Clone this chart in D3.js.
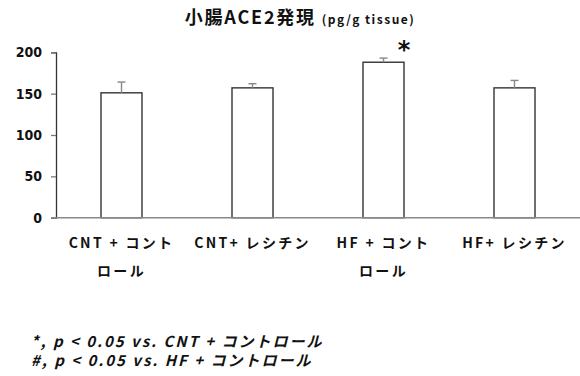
<!DOCTYPE html>
<html>
<head>
<meta charset="utf-8">
<script src="https://cdn.jsdelivr.net/npm/d3@7"></script>
<style>
  html, body { margin: 0; padding: 0; background: #fff; }
  svg { display: block; }
  text { font-family: "Noto Sans CJK JP", "DejaVu Sans", sans-serif; fill: #111; }
</style>
</head>
<body>
<svg id="chart" width="580" height="376"></svg>
<script>
// Intestinal ACE2 expression per group (pg/g tissue), mean and SE
const categories = ["CNT + コントロール", "CNT+ レシチン", "HF + コントロール", "HF+ レシチン"];
const labelLines = [["CNT + コント", "ロール"], ["CNT+ レシチン"], ["HF + コント", "ロール"], ["HF+ レシチン"]];
const means = [151, 157, 188, 157];
const errors = [13, 5, 5, 9];
const marks = ["", "", "*", ""];
const yTicks = [0, 50, 100, 150, 200];

const svg = d3.select("#chart");

const x = d3.scaleBand()
  .domain(categories)
  .range([56, 580])
  .paddingInner(0.687)
  .paddingOuter(0.3435);

const y = d3.scaleLinear().domain([0, 200]).range([217.7, 52.3]);

// Title
const title = svg.append("text")
  .attr("x", 300).attr("y", 24)
  .attr("text-anchor", "middle")
  .style("font-weight", "bold");
title.append("tspan").attr("font-size", 18).attr("letter-spacing", 1.8).text("小腸ACE2発現 ");
title.append("tspan").attr("font-size", 12).attr("letter-spacing", 1.5).text("(pg/g tissue)");

// Y axis
const yAxis = d3.axisLeft(y).tickValues(yTicks).tickSize(5).tickPadding(9);
const gy = svg.append("g").attr("transform", "translate(56,0)").call(yAxis);
gy.select(".domain").attr("stroke", "#333").attr("stroke-width", 1.3);
gy.selectAll(".tick line").attr("stroke", "#777").attr("stroke-width", 1.3);
gy.selectAll(".tick text")
  .attr("font-size", 14).attr("font-weight", "bold")
  .style("font-family", "'DejaVu Sans Condensed', 'DejaVu Sans', sans-serif")
  .attr("fill", "#111");

// Bars
svg.append("g").selectAll("rect")
  .data(categories)
  .join("rect")
  .attr("x", d => x(d))
  .attr("y", (d, i) => y(means[i]))
  .attr("width", x.bandwidth())
  .attr("height", (d, i) => y(0) - y(means[i]))
  .attr("fill", "#fff")
  .attr("stroke", "#333")
  .attr("stroke-width", 1.4);

// Error bars (upper only)
const eb = svg.append("g").attr("stroke", "#888").attr("stroke-width", 1.4);
categories.forEach((c, i) => {
  const cx = x(c) + x.bandwidth() / 2;
  eb.append("line").attr("x1", cx).attr("x2", cx)
    .attr("y1", y(means[i])).attr("y2", y(means[i] + errors[i]));
  eb.append("line").attr("x1", cx - 4).attr("x2", cx + 4)
    .attr("y1", y(means[i] + errors[i])).attr("y2", y(means[i] + errors[i]));
});

// X axis baseline
svg.append("line")
  .attr("x1", 52).attr("x2", 580)
  .attr("y1", y(0)).attr("y2", y(0))
  .attr("stroke", "#888").attr("stroke-width", 1.4);

// Significance marks
svg.append("g").selectAll("text")
  .data(categories)
  .join("text")
  .attr("x", d => x(d) + x.bandwidth())
  .attr("y", (d, i) => y(means[i] + errors[i]))
  .attr("text-anchor", "middle")
  .attr("font-size", 24).attr("font-weight", "bold")
  .style("font-family", "'DejaVu Sans', sans-serif")
  .text((d, i) => marks[i]);

// Category labels
const lg = svg.append("g");
categories.forEach((c, i) => {
  const cx = x(c) + x.bandwidth() / 2;
  labelLines[i].forEach((t, j) => {
    lg.append("text")
      .attr("x", cx).attr("y", 248 + j * 28)
      .attr("text-anchor", "middle")
      .attr("font-size", 14).attr("font-weight", "bold")
      .attr("letter-spacing", 2.3)
      .text(t);
  });
});

// Footnotes
const notes = ["*, p < 0.05 vs. CNT + コントロール", "#, p < 0.05 vs. HF + コントロール"];
svg.append("g").selectAll("text")
  .data(notes)
  .join("text")
  .attr("x", 31).attr("y", (d, i) => 347 + i * 19)
  .attr("font-size", 15).attr("font-weight", "bold")
  .attr("font-style", "italic")
  .attr("letter-spacing", 2)
  .text(d => d);
</script>
</body>
</html>
